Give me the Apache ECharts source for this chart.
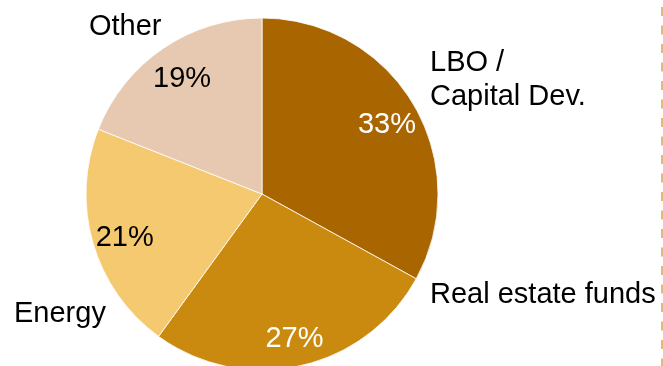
<!DOCTYPE html>
<html>
<head>
<meta charset="utf-8">
<style>
  html, body { margin: 0; padding: 0; background: #ffffff; }
  #chart { width: 663px; height: 366px; }
</style>
<script src="https://cdn.jsdelivr.net/npm/echarts@6/dist/echarts.min.js"></script>
</head>
<body>
<div id="chart"></div>
<script>
// Allocation by strategy (percent of total)
const categories = ['LBO /\nCapital Dev.', 'Real estate funds', 'Energy', 'Other'];
const shares = [33, 27, 21, 19];
const sliceColors = ['#a86500', '#c98a0f', '#f5c970', '#e6c9b0'];
const valueLabelColors = ['#ffffff', '#ffffff', '#000000', '#000000'];

// Where each category name sits around the pie (left/middle anchor)
const nameAnchors = [
  { x: 430, y: 80 },
  { x: 430, y: 295 },
  { x: 14, y: 314 },
  { x: 89, y: 27 }
];

const FONT = '"Liberation Sans", Arial, sans-serif';
const FONT_SIZE = 29;
const PIE_CENTER = [262, 194];
const PIE_RADIUS = 176;

const chart = echarts.init(document.getElementById('chart'), null, { renderer: 'canvas' });

chart.setOption({
  animation: false,
  backgroundColor: '#ffffff',
  series: [
    {
      // the slices themselves, with category names outside
      type: 'pie',
      center: PIE_CENTER,
      radius: PIE_RADIUS,
      startAngle: 90,
      clockwise: true,
      silent: true,
      itemStyle: { borderColor: '#ffffff', borderWidth: 0.8 },
      label: {
        show: true,
        position: 'outside',
        formatter: '{b}',
        color: '#000000',
        fontFamily: FONT,
        fontSize: FONT_SIZE,
        lineHeight: 34,
        overflow: 'none'
      },
      labelLine: { show: false },
      labelLayout: function (params) {
        const a = nameAnchors[params.dataIndex];
        return { x: a.x, y: a.y, align: 'left', verticalAlign: 'middle' };
      },
      data: categories.map((name, i) => ({
        name: name,
        value: shares[i],
        itemStyle: { color: sliceColors[i] }
      }))
    },
    {
      // percentage labels placed inside each slice
      type: 'pie',
      center: PIE_CENTER,
      radius: [106, PIE_RADIUS],
      startAngle: 90,
      clockwise: true,
      silent: true,
      itemStyle: { color: 'rgba(0,0,0,0)', borderWidth: 0 },
      label: {
        show: true,
        position: 'inside',
        formatter: '{c}%',
        fontFamily: FONT,
        fontSize: FONT_SIZE,
        offset: [1, 4]
      },
      labelLine: { show: false },
      data: categories.map((name, i) => ({
        name: name,
        value: shares[i],
        label: { color: valueLabelColors[i] }
      }))
    }
  ],
  graphic: [
    {
      type: 'line',
      silent: true,
      shape: { x1: 662, y1: 7, x2: 662, y2: 366 },
      style: { stroke: '#d9a24c', lineWidth: 1.5, lineDash: [9, 9.5] }
    }
  ]
});
</script>
</body>
</html>
